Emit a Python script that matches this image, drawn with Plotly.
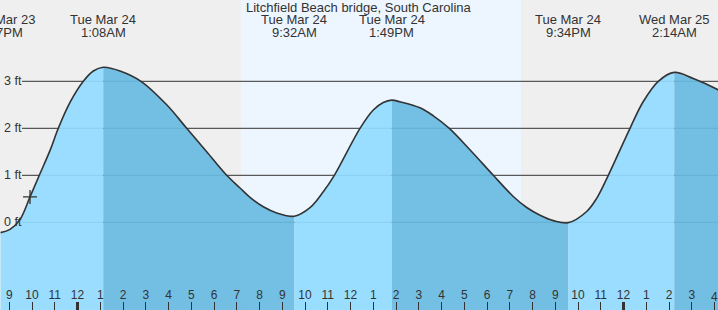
import plotly.graph_objects as go

# ---------------- data (hours from Tue Mar 24 00:00, heights in ft) ----------------
title_text = "Litchfield Beach bridge, South Carolina"

ext_hours = [-3.383, 1.133, 9.533, 13.817, 21.567, 26.233]
ext_heights = [-0.22, 3.30, 0.13, 2.60, -0.01, 3.19]
ext_days = ["Mon Mar 23", "Tue Mar 24", "Tue Mar 24", "Tue Mar 24", "Tue Mar 24", "Wed Mar 25"]
ext_times = ["8:37PM", "1:08AM", "9:32AM", "1:49PM", "9:34PM", "2:14AM"]

seg0_h = [-2.967, -2.527, -2.088, -1.679, -1.198, -0.844, -0.330, 0.255, 0.695]
seg0_v = [-0.15, 0.06, 0.54, 1.00, 1.54, 2.00, 2.55, 3.00, 3.22]
seg1_h = [1.868, 2.791, 3.921, 4.800, 5.679, 6.558, 7.143, 7.582, 8.167, 8.756]
seg1_v = [3.22, 3.00, 2.50, 2.00, 1.50, 1.00, 0.73, 0.53, 0.33, 0.20]
seg2_h = [10.220, 10.804, 11.288, 12.418, 13.002, 13.440]
seg2_v = [0.31, 0.65, 1.00, 2.00, 2.39, 2.55]
seg3_h = [14.176, 15.055, 15.640, 16.343, 17.310, 18.277, 19.156, 19.745, 20.330, 20.915]
seg3_v = [2.564, 2.436, 2.266, 2.00, 1.513, 1.00, 0.549, 0.315, 0.151, 0.036]
seg4_h = [22.382, 22.822, 23.332, 24.286, 24.870, 25.530]
seg4_v = [0.23, 0.51, 1.00, 2.00, 2.57, 3.00]
seg5_h = [27.068, 28.154, 28.680]
seg5_v = [3.06, 2.82, 2.67]

now_hour = [-2.088]
now_height = [0.54]

sunrise_hour = 7.18
sunset_hour = 19.50

grid_levels = [0, 1, 2, 3]
grid_labels = ["0 ft", "1 ft", "2 ft", "3 ft"]

tick_hours = list(range(-3, 29))
tick_labels = ["9", "10", "11", "12", "1", "2", "3", "4", "5", "6", "7", "8", "9", "10", "11",
               "12", "1", "2", "3", "4", "5", "6", "7", "8", "9", "10", "11", "12", "1", "2",
               "3", "4"]
midnight_hours = [0, 24]

# ---------------- styling ----------------
W, H = 718, 310
x_range = [-3.407, 28.154]
y_range = [-1.866, 4.73]
night_bg = "#efefef"
day_bg = "#edf6fe"
rise_fill = "rgba(146,219,255,0.92)"
fall_fill = "rgba(104,187,226,0.92)"
ink = "#333333"
font_family = "Liberation Sans, Arial, sans-serif"

segs_h = [seg0_h, seg1_h, seg2_h, seg3_h, seg4_h, seg5_h]
segs_v = [seg0_v, seg1_v, seg2_v, seg3_v, seg4_v, seg5_v]

fig = go.Figure()

for i in range(len(segs_h)):
    xs = [ext_hours[i]] + segs_h[i]
    ys = [ext_heights[i]] + segs_v[i]
    if i + 1 < len(ext_hours):
        xs = xs + [ext_hours[i + 1]]
        ys = ys + [ext_heights[i + 1]]
    color = rise_fill if i % 2 == 0 else fall_fill
    fig.add_trace(go.Scatter(x=[xs[0], xs[-1]], y=[-5, -5], mode="lines",
                             line=dict(width=0, color="rgba(0,0,0,0)"),
                             hoverinfo="skip", showlegend=False))
    fig.add_trace(go.Scatter(x=xs, y=ys, mode="lines", fill="tonexty", fillcolor=color,
                             line=dict(width=0, shape="spline", color="rgba(0,0,0,0)"),
                             hoverinfo="skip", showlegend=False))

# full curve line
all_h, all_v = [], []
for i in range(len(segs_h)):
    all_h += [ext_hours[i]] + segs_h[i]
    all_v += [ext_heights[i]] + segs_v[i]
fig.add_trace(go.Scatter(x=all_h, y=all_v, mode="lines",
                         line=dict(width=1.6, shape="spline", color=ink),
                         hoverinfo="skip", showlegend=False))

# current time marker
fig.add_trace(go.Scatter(x=now_hour, y=now_height, mode="markers",
                         marker=dict(symbol="cross-thin", size=10,
                                     line=dict(width=1.3, color=ink)),
                         hoverinfo="skip", showlegend=False))

shapes = []
# daylight band
shapes.append(dict(type="rect", xref="x", yref="paper", x0=sunrise_hour, x1=sunset_hour,
                   y0=0, y1=1, fillcolor=day_bg, line=dict(width=0), layer="below"))
# gridlines
for lv in grid_levels:
    shapes.append(dict(type="line", xref="paper", yref="y", x0=22 / W, x1=1, y0=lv, y1=lv,
                       line=dict(color=ink, width=1), layer="below"))
# thick midnight ticks
for mh in midnight_hours:
    shapes.append(dict(type="line", xref="x", yref="paper", x0=mh, x1=mh, y0=0, y1=8 / H,
                       line=dict(color=ink, width=3), layer="above"))

annotations = []
annotations.append(dict(text=title_text, xref="paper", yref="paper", x=0.5, y=1 - 8 / H,
                        xanchor="center", yanchor="middle", showarrow=False,
                        font=dict(size=13, color=ink, family=font_family)))


def to_paper(h):
    return (h - x_range[0]) / (x_range[1] - x_range[0])


for h, d, t in zip(ext_hours, ext_days, ext_times):
    for txt, ypx in ((d, 20), (t, 32)):
        annotations.append(dict(text=txt, xref="paper", yref="paper", x=to_paper(h),
                                y=1 - ypx / H, xanchor="center", yanchor="middle",
                                showarrow=False,
                                font=dict(size=13, color=ink, family=font_family)))

for lv, lab in zip(grid_levels, grid_labels):
    annotations.append(dict(text=lab, xref="paper", yref="y", x=0, y=lv, xshift=2,
                            xanchor="left", yanchor="middle", showarrow=False,
                            font=dict(size=12.5, color=ink, family=font_family)))

# last hour label sits on the right edge (partly cut in the original)
annotations.append(dict(text=tick_labels[-1], xref="paper", yref="paper",
                        x=to_paper(tick_hours[-1]), y=13 / H, xanchor="center",
                        yanchor="middle", showarrow=False,
                        font=dict(size=12, color=ink, family=font_family)))

fig.update_layout(
    width=W, height=H, autosize=False,
    margin=dict(l=0, r=0, t=0, b=0, pad=0),
    paper_bgcolor=night_bg, plot_bgcolor=night_bg,
    showlegend=False,
    shapes=shapes, annotations=annotations,
    xaxis=dict(range=x_range, showgrid=False, zeroline=False, showline=False,
               tickmode="array", tickvals=tick_hours, ticktext=tick_labels,
               ticks="inside", ticklen=8, tickwidth=1, tickcolor=ink,
               ticklabelposition="inside", fixedrange=True,
               tickfont=dict(size=12, color=ink, family=font_family)),
    yaxis=dict(range=y_range, visible=False, fixedrange=True),
)

fig.write_html("out.html", config={"displayModeBar": False})
